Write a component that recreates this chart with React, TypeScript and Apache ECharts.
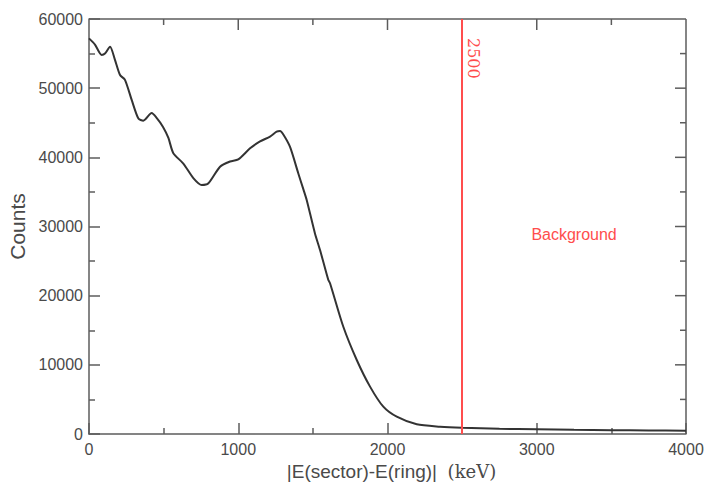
import React, { useEffect, useRef } from "react";
import * as echarts from "echarts";

// |E(sector)-E(ring)| in keV
const energy = [
  0, 40, 85, 107, 141, 174, 208, 241, 286, 331, 364, 420, 453, 496, 532, 565,
  632, 699, 755, 800, 878, 945, 1000, 1079, 1146, 1213, 1257, 1280, 1302, 1347,
  1402, 1436, 1459, 1514, 1548, 1603, 1615, 1704, 1794, 1883, 1972, 2062, 2196,
  2352, 2500, 2750, 3000, 3250, 3500, 3750, 4000,
];
// Counts
const counts = [
  57200, 56300, 54800, 55000, 56000, 54100, 51900, 51200, 48300, 45600, 45300,
  46400, 45700, 44400, 42800, 40600, 39100, 37000, 36000, 36250, 38650, 39400,
  39700, 41300, 42300, 43000, 43700, 43800, 43300, 41500, 37700, 35400, 33800,
  29000, 26600, 22300, 21800, 15500, 10700, 6850, 3950, 2500, 1400, 1060, 900,
  750, 680, 600, 560, 520, 480,
];

const xMin = 0;
const xMax = 4000;
const xInterval = 1000;
const yMin = 0;
const yMax = 60000;
const yInterval = 10000;

const markerEnergy = 2500;
const markerLabel = "2500";
const regionLabel = "Background";
const regionPos = [3250, 28800];

const xName = "|E(sector)-E(ring)|";
const xUnit = "(keV)";
const yName = "Counts";

const SANS = "Liberation Sans, Arial, Helvetica, sans-serif";
const SERIF = "DejaVu Serif, Liberation Serif, serif";
const RED = "#ff4d4d";
const AXIS = "#5c5c5c";
const LABEL = "#4a4a4a";

export default function App() {
  const ref = useRef<HTMLDivElement>(null);

  useEffect(() => {
    if (!ref.current) return;
    const chart = echarts.init(ref.current, null, { renderer: "svg" });

    const plain = (v: number) => String(v);
    const data = energy.map((e, i) => [e, counts[i]]);

    chart.setOption({
      animation: false,
      backgroundColor: "#ffffff",
      grid: {
        left: 89,
        right: 21,
        top: 19,
        bottom: 48,
        outerBoundsMode: "none",
      },
      xAxis: {
        type: "value",
        min: xMin,
        max: xMax,
        interval: xInterval,
        axisLine: { show: true, onZero: false, lineStyle: { color: AXIS, width: 1.5 } },
        axisTick: { show: true, inside: true, length: 11, lineStyle: { color: AXIS, width: 1.5 } },
        minorTick: { show: true, splitNumber: 2, length: 6, lineStyle: { color: AXIS, width: 1.5 } },
        splitLine: { show: false },
        axisLabel: { color: LABEL, fontSize: 16, fontFamily: SANS, margin: 7, formatter: plain },
        name: `{a|${xName}}{sp|  }{b|${xUnit}}`,
        nameLocation: "middle",
        nameGap: 22,
        nameTextStyle: {
          padding: [0, 0, 0, 8],
          rich: {
            a: { fontFamily: SANS, fontSize: 19, color: LABEL },
            sp: { fontFamily: SANS, fontSize: 19, color: LABEL },
            b: { fontFamily: SERIF, fontSize: 18, color: LABEL },
          },
        },
      },
      yAxis: {
        type: "value",
        min: yMin,
        max: yMax,
        interval: yInterval,
        axisLine: { show: true, onZero: false, lineStyle: { color: AXIS, width: 1.5 } },
        axisTick: { show: true, inside: true, length: 11, lineStyle: { color: AXIS, width: 1.5 } },
        minorTick: { show: true, splitNumber: 2, length: 6, lineStyle: { color: AXIS, width: 1.5 } },
        splitLine: { show: false },
        axisLabel: { color: LABEL, fontSize: 16, fontFamily: SANS, margin: 6, formatter: plain },
        name: yName,
        nameLocation: "middle",
        nameGap: 58,
        nameTextStyle: { color: LABEL, fontSize: 21, fontFamily: SANS },
      },
      series: [
        {
          type: "line",
          data,
          showSymbol: false,
          smooth: 0.25,
          lineStyle: { color: "#333333", width: 2 },
          markLine: {
            silent: true,
            symbol: "none",
            label: { show: false },
            lineStyle: { color: RED, width: 2, type: "solid" },
            data: [{ xAxis: markerEnergy }],
          },
        },
      ],
    });

    const px = (x: number, y: number) =>
      chart.convertToPixel({ gridIndex: 0 }, [x, y]) as number[];

    const ticks: any[] = [];
    const MAJOR = 11;
    const MINOR = 6;
    const seg = (x1: number, y1: number, x2: number, y2: number) => ({
      type: "line",
      shape: { x1, y1, x2, y2 },
      style: { stroke: AXIS, lineWidth: 1.5 },
    });

    // mirrored ticks on top and right frame edges
    for (let v = xMin + xInterval / 2; v < xMax; v += xInterval / 2) {
      const len = v % xInterval === 0 ? MAJOR : MINOR;
      const t = px(v, yMax);
      ticks.push(seg(t[0], t[1], t[0], t[1] + len));
    }
    for (let v = yMin + yInterval / 2; v < yMax; v += yInterval / 2) {
      const len = v % yInterval === 0 ? MAJOR : MINOR;
      const r = px(xMax, v);
      ticks.push(seg(r[0], r[1], r[0] - len, r[1]));
    }
    const tl = px(xMin, yMax);
    const tr = px(xMax, yMax);
    const br = px(xMax, yMin);
    ticks.push(seg(tl[0], tl[1], tr[0], tr[1]));
    ticks.push(seg(tr[0], tr[1], br[0], br[1]));

    const top = px(markerEnergy, yMax);
    const bg = px(regionPos[0], regionPos[1]);

    chart.setOption({
      graphic: [
        ...ticks,
        {
          type: "text",
          x: top[0] + 3,
          y: top[1] + 19,
          rotation: -Math.PI / 2,
          style: {
            text: markerLabel,
            fill: RED,
            fontFamily: SERIF,
            fontSize: 16,
            align: "left",
            verticalAlign: "bottom",
          },
        },
        {
          type: "text",
          x: bg[0],
          y: bg[1],
          style: {
            text: regionLabel,
            fill: RED,
            fontFamily: SANS,
            fontSize: 16,
            align: "center",
            verticalAlign: "middle",
          },
        },
      ],
    });

    return () => chart.dispose();
  }, []);

  return (
    <div
      ref={ref}
      style={{ position: "absolute", left: 0, top: 0, width: 707, height: 482 }}
    />
  );
}
